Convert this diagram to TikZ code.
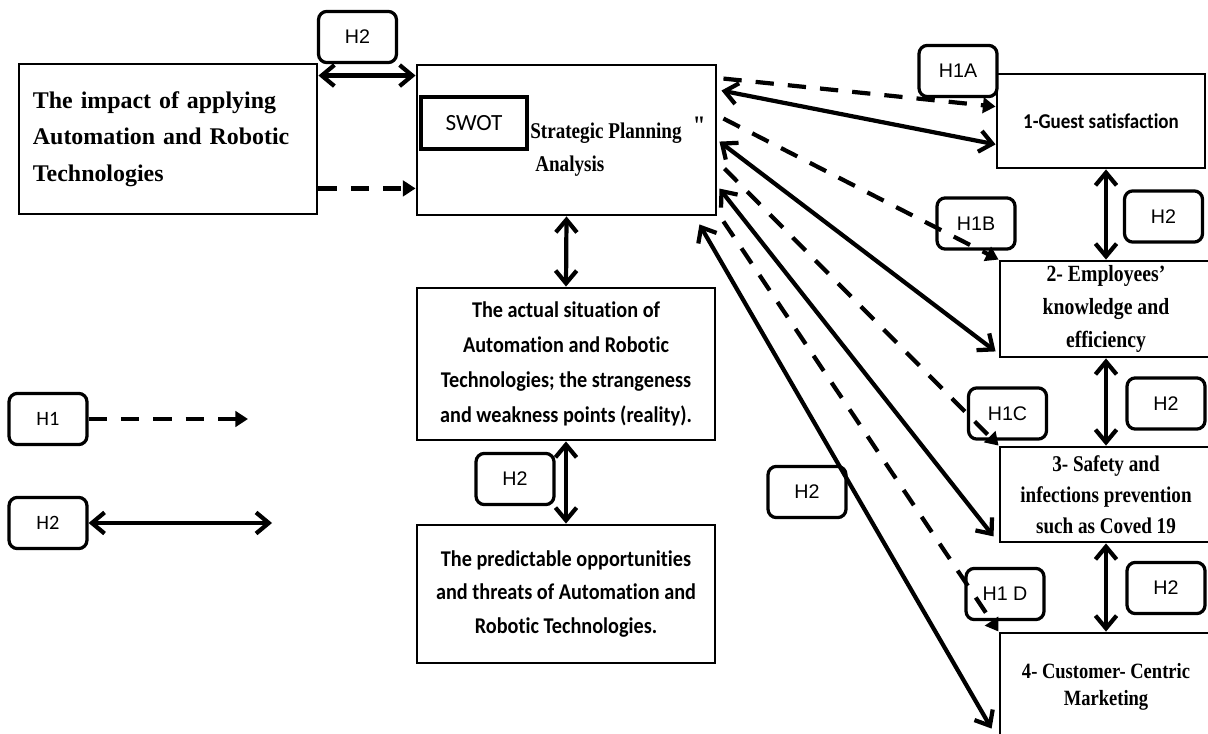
\documentclass[tikz,border=0pt]{standalone}
\usepackage{fontspec}
\usetikzlibrary{arrows.meta,calc}
\newfontfamily\timesfont{Liberation Serif}
\newfontfamily\timesnarrow{Liberation Serif}[FakeStretch=0.85]
\newfontfamily\calfont{Carlito}[Ligatures=NoCommon]
\newfontfamily\calnarrow{Carlito}[FakeStretch=0.9,Ligatures=NoCommon]
\newfontfamily\arifont{Liberation Sans}

\begin{document}
\begin{tikzpicture}[x=0.025cm,y=-0.025cm,
	box/.style={draw,line width=2pt,inner sep=0pt},
	hyp/.style={draw,line width=2.3pt,rounded corners=6pt,fill=white,minimum width=1.95cm,minimum height=1.28cm,font=\arifont\fontsize{14}{16}\selectfont},
	dbl/.style={line width=3pt,{Straight Barb[length=9pt,width=15pt]}-{Straight Barb[length=9pt,width=15pt]}},
	dsh/.style={line width=3pt,dash pattern=on 13pt off 10pt,-{Triangle[length=9pt,width=11pt]}}]
		\useasboundingbox (0,0) rectangle (1208,734);
		\node[box,minimum width=7.45cm,minimum height=3.75cm,text width=6.75cm,inner xsep=0.35cm,align=left,font=\timesfont\bfseries\fontsize{17}{26}\selectfont] (impact) at (168,139)
		{The impact of applying\\ Automation and Robotic\\ Technologies};
		\node[box,minimum width=7.475cm,minimum height=3.75cm] (swot) at (566.5,140) {};
		\node[box,line width=3pt,minimum width=2.65cm,minimum height=1.3cm,font=\calfont\fontsize{16.5}{18}\selectfont] (swotin) at (474,123) {SWOT};
		\node[anchor=west,inner sep=0pt,font=\timesnarrow\bfseries\fontsize{16}{18}\selectfont] (splan) at (530,130) {Strategic Planning\hspace{8pt}\raisebox{3pt}{\fontsize{19}{20}\selectfont"}};
		\node[anchor=west,inner sep=0pt,font=\timesnarrow\bfseries\fontsize{16}{18}\selectfont] (sanal) at (535,166) {Analysis};
		\node[box,minimum width=7.45cm,minimum height=3.8cm,align=center,font=\calnarrow\bfseries\fontsize{16}{25}\selectfont] (sit) at (566,364)
		{The actual situation of\\ Automation and Robotic\\ Technologies; the strangeness\\ and weakness points (reality).};
		\node[box,minimum width=7.45cm,minimum height=3.45cm,align=center,font=\calnarrow\bfseries\fontsize{16}{23.5}\selectfont] (pred) at (566,594)
		{The predictable opportunities\\ and threats of Automation and\\ Robotic Technologies.};
		\node[box,minimum width=5.2cm,minimum height=2.35cm,font=\calnarrow\bfseries\fontsize{15}{18}\selectfont] (guest) at (1101,121) {1-Guest satisfaction};
		\node[box,minimum width=5.3cm,minimum height=2.4cm,align=center,font=\timesnarrow\bfseries\fontsize{16.5}{23.5}\selectfont] (empl) at (1106,309)
		{2- Employees’\\ knowledge and\\ efficiency};
		\node[box,minimum width=5.3cm,minimum height=2.375cm,align=center,font=\timesnarrow\bfseries\fontsize{16}{22}\selectfont] (safe) at (1106,494.5)
		{3- Safety and\\ infections prevention\\ such as Coved 19};
		\node[box,minimum width=5.3cm,minimum height=2.675cm,align=center,font=\timesnarrow\bfseries\fontsize{15.5}{19}\selectfont] (cust) at (1106,686.5)
		{4- Customer- Centric\\ Marketing};
		\node[hyp] (hA) at (357.5,37) {H2};
		\node[hyp] (h1a) at (958,71) {H1A};
		\node[hyp] (h1b) at (976,223.5) {H1B};
		\node[hyp] (hB) at (1163.5,216.5) {H2};
		\node[hyp] (h1c) at (1007.5,413.5) {H1C};
		\node[hyp] (hC) at (1166,403.5) {H2};
		\node[hyp] (hD) at (807,492) {H2};
		\node[hyp] (h1d) at (1005,594) {H1 D};
		\node[hyp] (hE) at (1166,588) {H2};
		\node[hyp] (hF) at (515,479) {H2};
		\node[hyp,font=\calfont\fontsize{14.5}{16}\selectfont] (key1) at (48,419) {H1};
		\node[hyp,font=\calfont\fontsize{14.5}{16}\selectfont] (key2) at (48,523) {H2};
		\coordinate (key1end) at (248,419);
		\coordinate (key2end) at (272,523);
		\draw[dbl] ($(impact.north east)+(0,13)$) -- ($(swot.north west)+(0,12)$);
		\draw[dsh] ($(impact.south east)+(0,-27)$) -- ($(swot.south west)+(0,-28)$);
		\draw[dbl] (swot.south) -- (sit.north);
		\draw[dbl] (sit.south) -- (pred.north);
		\draw[dbl] (empl.north |- guest.south) -- (empl.north);
		\draw[dbl] (empl.south) -- (safe.north);
		\draw[dbl] (safe.south) -- (cust.north);
		\draw[dsh] ($(swot.north east)+(6,15)$) -- ($(guest.north west)+(0,34)$);
		\draw[dbl] ($(swot.north east)+(4,27)$) -- ($(guest.south west)+(0,-25)$);
		\draw[dsh] ($(swot.north east)+(6,55)$) -- (empl.north west);
		\draw[dbl] ($(swot.north east)+(2,78)$) -- ($(empl.south west)+(-3,-7)$);
		\draw[dsh] ($(swot.north east)+(7,105)$) -- (safe.north west);
		\draw[dbl] ($(swot.north east)+(2,125)$) -- ($(safe.south west)+(-5,-7)$);
		\draw[dsh] ($(swot.south east)+(6,5)$) -- (cust.north west);
		\draw[dbl] ($(swot.south east)+(-18,8)$) -- ($(cust.north west)+(-7,97)$);
		\draw[dsh] (key1) -- (key1end);
		\draw[dbl] (key2) -- (key2end);
		\end{tikzpicture}
\end{document}
